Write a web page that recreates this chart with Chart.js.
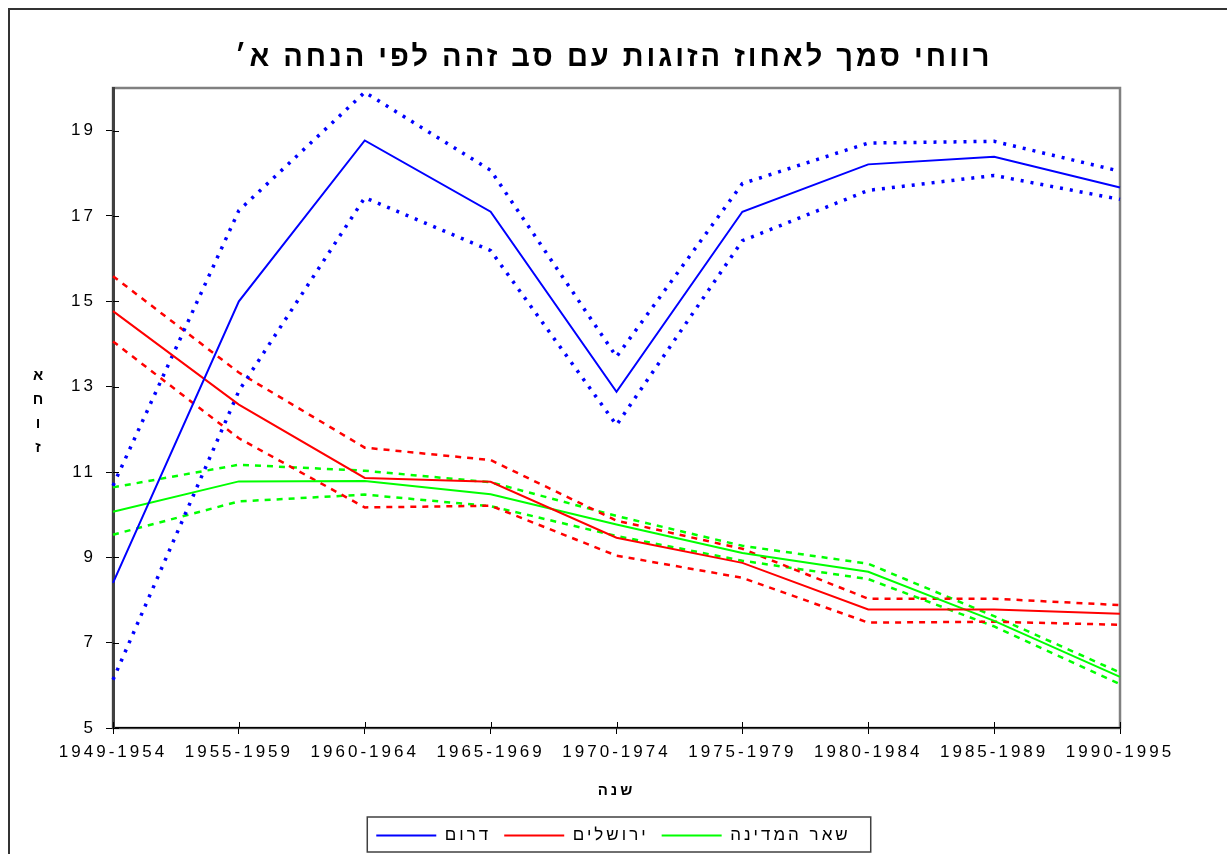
<!DOCTYPE html>
<html>
<head>
<meta charset="utf-8">
<script src="https://cdn.jsdelivr.net/npm/chart.js@4.4.0/dist/chart.umd.min.js"></script>
<style>
    html, body { margin: 0; padding: 0; background: #fff; }
</style>
</head>
<body>
<canvas id="myChart" width="1227" height="854"></canvas>
<script>
// data
const periods = ['1949-1954', '1955-1959', '1960-1964', '1965-1969', '1970-1974',
                 '1975-1979', '1980-1984', '1985-1989', '1990-1995'];
const yTicks = [5, 7, 9, 11, 13, 15, 17, 19];

const south      = [8.4, 15.0, 18.77, 17.1, 12.88, 17.1, 18.21, 18.39, 17.67];
const southHigh  = [10.68, 17.13, 19.9, 18.07, 13.7, 17.76, 18.71, 18.75, 18.05];
const southLow   = [6.13, 12.9, 17.43, 16.19, 12.1, 16.42, 17.6, 17.95, 17.39];

const jerusalem     = [14.77, 12.58, 10.86, 10.77, 9.46, 8.87, 7.78, 7.78, 7.68];
const jerusalemHigh = [15.59, 13.33, 11.57, 11.28, 9.86, 9.2, 8.03, 8.03, 7.88];
const jerusalemLow  = [14.06, 11.79, 10.17, 10.21, 9.04, 8.52, 7.47, 7.49, 7.42];

const rest     = [10.07, 10.78, 10.79, 10.48, 9.77, 9.1, 8.66, 7.51, 6.2];
const restHigh = [10.64, 11.17, 11.03, 10.76, 9.97, 9.27, 8.85, 7.62, 6.3];
const restLow  = [9.53, 10.31, 10.47, 10.2, 9.5, 8.92, 8.49, 7.38, 6.03];

const chartTitle = 'רווחי סמך לאחוז הזוגות עם סב זהה לפי הנחה א׳';
const xTitle = 'שנה';
const yTitleLetters = ['א', 'ח', 'ו', 'ז'];
const seriesNames = ['דרום', 'ירושלים', 'שאר המדינה'];

const BLUE = '#0000ff', RED = '#ff0000', GREEN = '#00ff00';
const FONT = "'Liberation Sans', Arial, sans-serif";

function solid(label, data, color) {
    return { label, data, borderColor: color, backgroundColor: color, borderWidth: 2,
             pointRadius: 0, tension: 0 };
}
function band(data, color, width, dash) {
    return { label: '', data, borderColor: color, backgroundColor: color, borderWidth: width,
             borderDash: dash, pointRadius: 0, tension: 0 };
}

// frames, inner ticks, stacked y title, letter spacing
const extras = {
    id: 'extras',
    beforeLayout(chart) { chart.ctx.letterSpacing = '3px'; },
    beforeDraw(chart) {
        const ctx = chart.ctx;
        const a = chart.chartArea;
        ctx.save();
        // outer frame
        ctx.strokeStyle = '#333';
        ctx.lineWidth = 2;
        ctx.strokeRect(9, 9, 1300, 900);
        // plot frame
        ctx.strokeStyle = '#808080';
        ctx.lineWidth = 2.5;
        ctx.strokeRect(a.left, a.top, a.right - a.left, a.bottom - a.top);
        ctx.restore();
        ctx.letterSpacing = '3px';
    },
    afterDraw(chart) {
        const ctx = chart.ctx;
        const a = chart.chartArea;
        ctx.save();
        // ticks crossing into the plot
        ctx.strokeStyle = '#000';
        ctx.lineWidth = 1;
        ctx.beginPath();
        chart.scales.y.ticks.forEach(t => {
            const py = Math.round(chart.scales.y.getPixelForValue(t.value)) + 0.5;
            ctx.moveTo(a.left, py); ctx.lineTo(a.left + 6, py);
        });
        periods.forEach((p, i) => {
            const px = Math.round(chart.scales.x.getPixelForValue(i)) + 0.5;
            ctx.moveTo(px, a.bottom); ctx.lineTo(px, a.bottom - 6);
        });
        ctx.stroke();

        // stacked y title
        ctx.letterSpacing = '0px';
        ctx.fillStyle = '#000';
        ctx.font = 'bold 15px ' + FONT;
        ctx.textAlign = 'center';
        ctx.textBaseline = 'middle';
        yTitleLetters.forEach((ch, i) => ctx.fillText(ch, 38, 376 + i * 24));

        // frame round the legend
        const boxes = chart.legend.legendHitBoxes;
        if (boxes && boxes.length) {
            const l = boxes[0].left - 9;
            const last = boxes[boxes.length - 1];
            const r = last.left + last.width + 20;
            const top = boxes[0].top - 10;
            ctx.strokeStyle = '#404040';
            ctx.lineWidth = 1.5;
            ctx.strokeRect(l, top, r - l, boxes[0].height + 18);
        }
        ctx.restore();
    }
};

const config = {
    type: 'line',
    data: {
        labels: periods,
        datasets: [
            solid(seriesNames[0], south, BLUE),
            solid(seriesNames[1], jerusalem, RED),
            solid(seriesNames[2], rest, GREEN),
            band(southHigh, BLUE, 3.5, [3, 7]),
            band(southLow, BLUE, 3.5, [3, 7]),
            band(jerusalemHigh, RED, 2.5, [6, 6]),
            band(jerusalemLow, RED, 2.5, [6, 6]),
            band(restHigh, GREEN, 2.5, [6, 6]),
            band(restLow, GREEN, 2.5, [6, 6])
        ]
    },
    options: {
        responsive: false,
        animation: false,
        layout: { padding: { top: 41, left: 0, right: 0, bottom: 0 } },
        plugins: {
            title: {
                display: true,
                text: chartTitle,
                color: '#000',
                font: { family: FONT, size: 29, weight: 'bold' },
                padding: { top: 0, bottom: 12.2 }
            },
            legend: {
                position: 'bottom',
                labels: {
                    color: '#000',
                    font: { family: FONT, size: 17 },
                    boxWidth: 60,
                    boxHeight: 2,
                    padding: 13,
                    generateLabels: (chart) =>
                        Chart.defaults.plugins.legend.labels.generateLabels(chart)
                            .filter(l => l.datasetIndex < 3)
                            .map(l => Object.assign(l, { lineWidth: 0, lineDash: [] }))
                }
            },
            tooltip: { enabled: false }
        },
        scales: {
            x: {
                type: 'category',
                offset: false,
                grid: { display: true, drawOnChartArea: false, drawTicks: true, tickLength: 6,
                        color: '#000', offset: false },
                border: { display: true, color: '#000', width: 1.5 },
                ticks: { color: '#000', font: { family: FONT, size: 17 }, padding: 8,
                         maxRotation: 0, autoSkip: false },
                title: { display: true, text: xTitle, color: '#000',
                         font: { family: FONT, size: 15, weight: 'bold' },
                         padding: { top: 16, bottom: 14 } },
                afterFit: (scale) => { scale.height = 86; }
            },
            y: {
                min: 5,
                max: 20,
                grid: { display: true, drawOnChartArea: false, drawTicks: true, tickLength: 7,
                        color: '#000' },
                border: { display: true, color: '#404040', width: 3 },
                ticks: { color: '#000', font: { family: FONT, size: 17 }, padding: 10 },
                afterBuildTicks: (scale) => { scale.ticks = yTicks.map(v => ({ value: v })); },
                afterFit: (scale) => { scale.width = 113; }
            },
            // empty margin on the right so title and legend centre on the page
            yRight: {
                position: 'right',
                min: 5,
                max: 20,
                grid: { display: false },
                border: { display: false },
                ticks: { display: false },
                afterFit: (scale) => { scale.width = 107; }
            }
        }
    },
    plugins: [extras]
};

const myChart = new Chart(document.getElementById('myChart'), config);
</script>
</body>
</html>
